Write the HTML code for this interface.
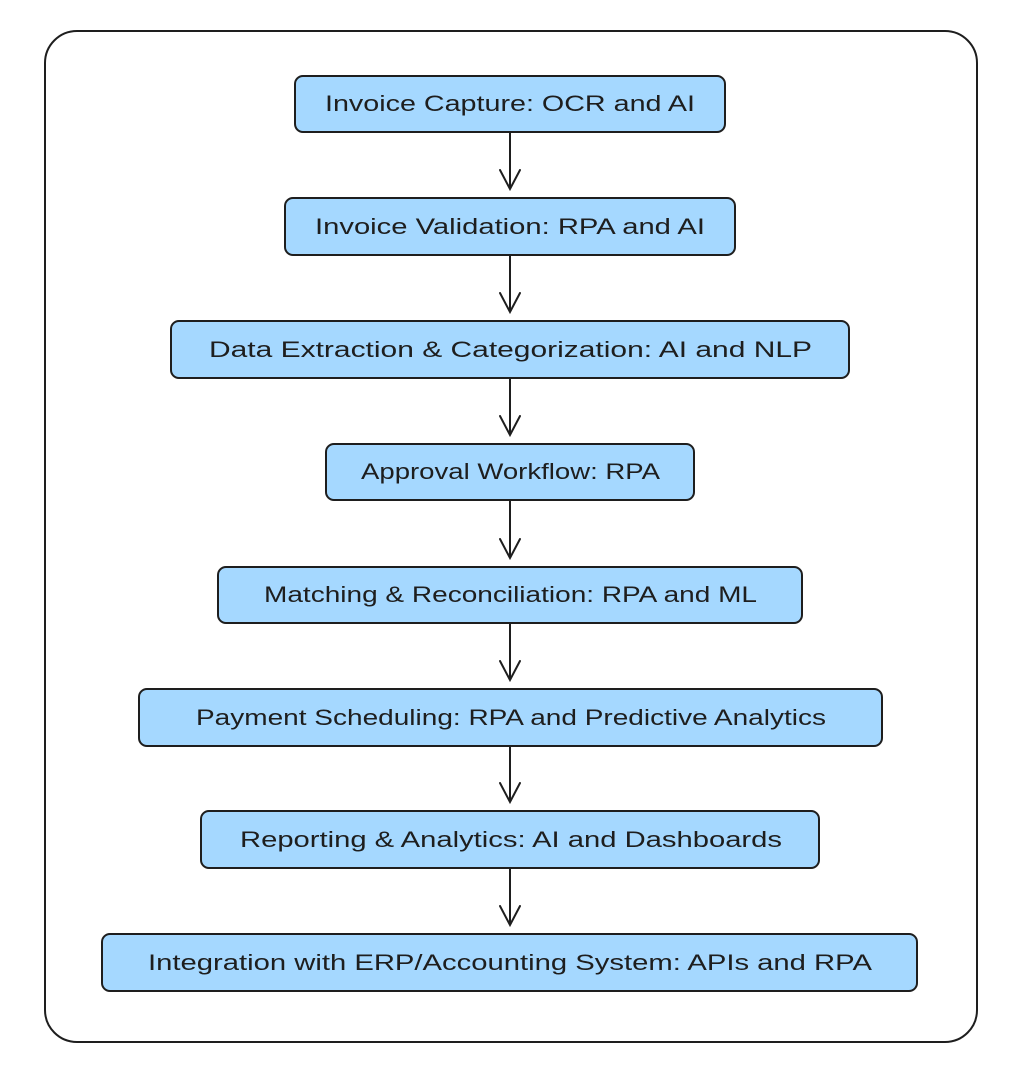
<!DOCTYPE html>
<html><head><meta charset="utf-8"><style>html,body{margin:0;padding:0;background:#fff}svg{display:block}</style></head>
<body>
<svg width="1020" height="1072" viewBox="0 0 1020 1072" xmlns="http://www.w3.org/2000/svg">
<rect x="45" y="31" width="932" height="1011" rx="32" fill="#fff" stroke="#1e1e1e" stroke-width="2"/>
<g fill="#a5d8ff" stroke="#1e1e1e" stroke-width="2">
<rect x="295" y="76" width="430" height="56" rx="8"/>
<rect x="285" y="198" width="450" height="57" rx="8"/>
<rect x="171" y="321" width="678" height="57" rx="8"/>
<rect x="326" y="444" width="368" height="56" rx="8"/>
<rect x="218" y="567" width="584" height="56" rx="8"/>
<rect x="139" y="689" width="743" height="57" rx="8"/>
<rect x="201" y="811" width="618" height="57" rx="8"/>
<rect x="102" y="934" width="815" height="57" rx="8"/>
</g>
<g stroke="#1e1e1e" stroke-width="2" fill="none" stroke-linecap="round">
<path d="M510 133 V189 M500 170 L510 189 L520 170"/>
<path d="M510 256 V312 M500 293 L510 312 L520 293"/>
<path d="M510 379 V435 M500 416 L510 435 L520 416"/>
<path d="M510 501 V558 M500 539 L510 558 L520 539"/>
<path d="M510 624 V680 M500 661 L510 680 L520 661"/>
<path d="M510 747 V802 M500 783 L510 802 L520 783"/>
<path d="M510 869 V925 M500 906 L510 925 L520 906"/>
</g>
<g font-family="Liberation Sans, sans-serif" font-size="22" fill="#1e1e1e" lengthAdjust="spacingAndGlyphs">
<text x="325" y="111" textLength="370" lengthAdjust="spacingAndGlyphs">Invoice Capture: OCR and AI</text>
<text x="315" y="234" textLength="390" lengthAdjust="spacingAndGlyphs">Invoice Validation: RPA and AI</text>
<text x="209" y="357" textLength="603" lengthAdjust="spacingAndGlyphs">Data Extraction &amp; Categorization: AI and NLP</text>
<text x="361" y="479" textLength="299" lengthAdjust="spacingAndGlyphs">Approval Workflow: RPA</text>
<text x="264" y="602" textLength="493" lengthAdjust="spacingAndGlyphs">Matching &amp; Reconciliation: RPA and ML</text>
<text x="196" y="725" textLength="630" lengthAdjust="spacingAndGlyphs">Payment Scheduling: RPA and Predictive Analytics</text>
<text x="240" y="847" textLength="542" lengthAdjust="spacingAndGlyphs">Reporting &amp; Analytics: AI and Dashboards</text>
<text x="148" y="970" textLength="724" lengthAdjust="spacingAndGlyphs">Integration with ERP/Accounting System: APIs and RPA</text>
</g>
</svg>
</body></html>
